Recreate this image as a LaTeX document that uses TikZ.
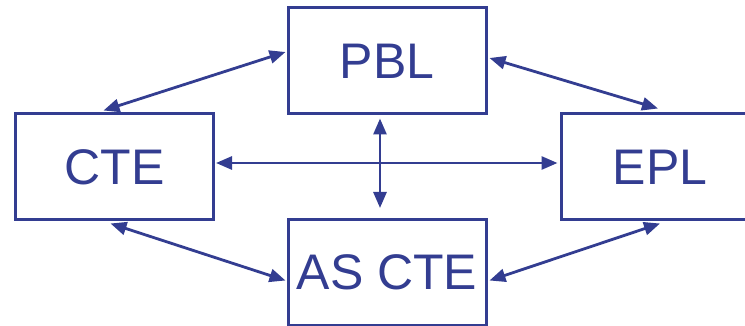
\documentclass[tikz,border=0pt]{standalone}
\usepackage{fontspec}
\setmainfont{Liberation Sans}
\usepackage{tikz}
\usetikzlibrary{calc,arrows.meta,positioning}
\definecolor{slideblue}{RGB}{51,61,145}
\tikzset{
  box/.style={draw=slideblue,line width=3pt,minimum width=198pt,minimum height=106pt,
    inner sep=0pt,text=slideblue,font=\fontsize{50}{60}\selectfont},
  link/.style={{Triangle[length=16pt,width=13pt]}-{Triangle[length=16pt,width=13pt]},
    draw=slideblue,line width=2.8pt}
}

\begin{document}
\begin{tikzpicture}[x=1pt,y=-1pt]
  \useasboundingbox (0,0) rectangle (745,326);
  \clip (0,0) rectangle (745,326);
  % the four boxes
  \node[box] (pbl) at (387,61) {PBL};
  \node[box] (cte) at (114.5,167) {CTE};
  \node[box] (epl) at (660,167) {EPL};
  \node[box] (ascte) at (387,272.5) {AS CTE};
  % double headed links
  \draw[link] ($(cte.north)+(-11,-2)$) -- ($(pbl.west)+(-1,-9)$);
  \draw[link] ($(pbl.east)+(2,-3)$) -- ($(epl.north)+(-2,-4)$);
  \draw[link] ($(cte.east)+(1,-4)$) -- ($(epl.west)+(-2,-4)$);
  \draw[link] ($(pbl.south)+(-7,3)$) -- ($(ascte.north)+(-7,-10)$);
  \draw[link] ($(cte.south)+(-4,2)$) -- ($(ascte.west)+(-1,8)$);
  \draw[link] ($(epl.south)+(0,2)$) -- ($(ascte.east)+(2,8)$);
\end{tikzpicture}
\end{document}
